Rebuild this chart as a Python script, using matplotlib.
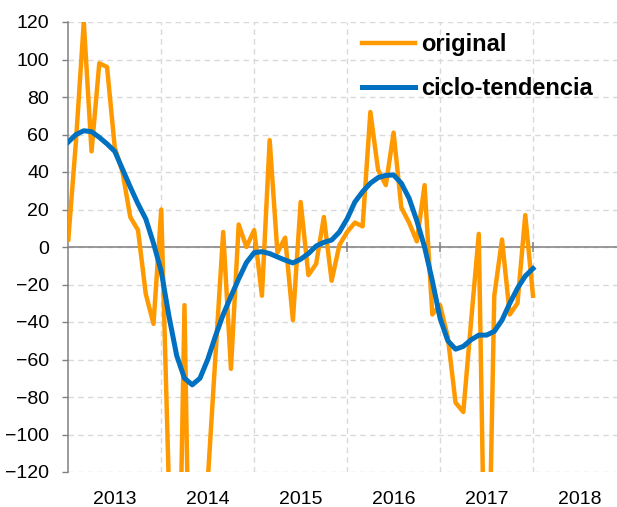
import matplotlib
matplotlib.use("Agg")
import matplotlib.pyplot as plt
import numpy as np

plt.rcParams['font.family'] = ['Liberation Sans', 'DejaVu Sans']

# datos mensuales, ene-2013 .. ene-2018 (61 puntos)
original = [4, 57, 120, 51, 98, 96, 53, 40, 16, 9, -25, -41,
            20, -130, -260, -31, -280, -250, -125, -58, 8, -65, 12, 0,
            9, -26, 57, -3, 5, -39, 24, -15, -9, 16, -18, 1,
            8, 13, 11, 72, 41, 33, 61, 21, 13, 3, 33, -36,
            -31, -48, -83, -88, -40, 7, -240, -26, 4, -36, -30, 17,
            -26]
ciclo_tendencia = [56, 60, 62, 61.5, 58.5, 55, 51, 41.5, 32, 23, 15, 2,
                   -13, -37, -58, -70, -73.5, -70, -60, -47.5, -36, -26.3, -17, -8.3,
                   -3, -2.5, -3.5, -5.3, -7, -8.5, -6.5, -3.5, 0.5, 2.5, 3.7, 8,
                   15, 24, 29.5, 34, 37, 38.2, 38.4, 34, 26, 14, 0, -18,
                   -38, -50, -54.5, -53, -49.5, -47, -47, -45, -39, -30, -22, -15.5,
                   -11.5]
years = [2013, 2014, 2015, 2016, 2017, 2018]
yticks = list(range(-120, 121, 20))

t = 2013 + np.arange(len(original)) / 12.0

W, H = 617, 507
fig = plt.figure(figsize=(W / 100, H / 100), dpi=100)
left, right, top, bottom = 68.3, 617, 22, 472
ax = fig.add_axes([left / W, 1 - bottom / H, (right - left) / W, (bottom - top) / H])

px_per_year = (533 - 68.3) / 5
ax.plot(t, original, color='#FF9900', lw=3.2, label='original', zorder=3)
ax.plot(t, ciclo_tendencia, color='#0070C0', lw=3.6, label='ciclo-tendencia', zorder=4)

ax.set_xlim(2013, 2013 + (right - left) / px_per_year)
ax.set_ylim(-120, 120)

grid_kw = dict(color='#D9D9D9', lw=1.0, ls=(0, (4, 3)))
ax.set_xticks([y + 1 for y in years[:-1]])
ax.set_xticks([y + 0.5 for y in years], minor=True)
ax.set_xticklabels([str(y) for y in years], minor=True)
ax.xaxis.grid(True, which='major', **grid_kw)
ax.tick_params(axis='x', which='both', length=0, labelbottom=True, labelsize=14, pad=14)
ax.tick_params(axis='x', which='major', labelbottom=False)

ax.set_yticks(yticks)
ax.yaxis.grid(True, **grid_kw)
ax.tick_params(axis='y', length=4.3, width=1, color='#808080', labelsize=14, pad=9.5)
ax.set_axisbelow(True)

for s in ['top', 'right', 'bottom']:
    ax.spines[s].set_visible(False)
ax.spines['left'].set_color('#808080')
ax.spines['left'].set_linewidth(1.1)

# eje horizontal en cero con marcas en los cambios de año
ax.axhline(0, color='#808080', lw=1.1, zorder=2)
ax.plot([y + 1 for y in years[:-1]], [0] * (len(years) - 1), ls='none', marker='|',
        ms=7, mew=1.1, color='#808080', zorder=2)

ax.legend(loc='upper left', bbox_to_anchor=(362 / W, 1 - 33 / H), bbox_transform=fig.transFigure,
          frameon=False, borderpad=0, borderaxespad=0, handlelength=2.25, handletextpad=0.25,
          labelspacing=0.9, prop={'weight': 'bold', 'size': 17})

fig.savefig('out.png', dpi=100)
